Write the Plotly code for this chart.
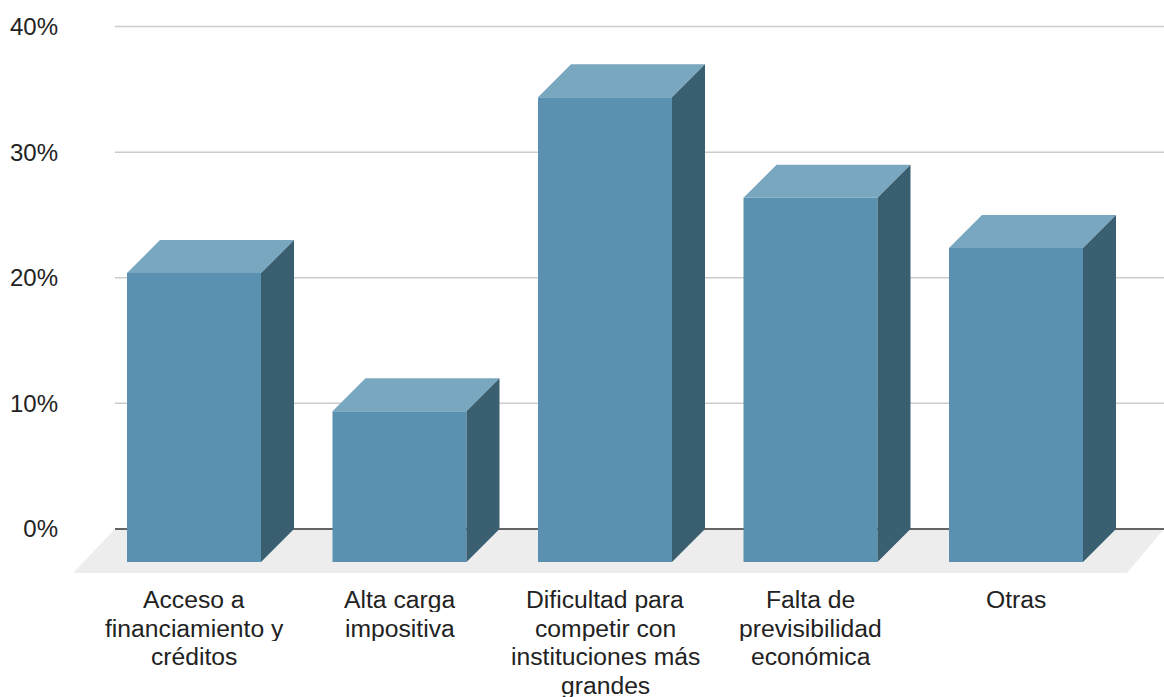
import plotly.graph_objects as go

categories = [
    ["Acceso a", "financiamiento y", "créditos"],
    ["Alta carga", "impositiva"],
    ["Dificultad para", "competir con", "instituciones más", "grandes"],
    ["Falta de", "previsibilidad", "económica"],
    ["Otras"],
]
values = [23, 12, 37, 29, 25]
y_ticks = [0, 10, 20, 30, 40]
y_ticktext = ["0%", "10%", "20%", "30%", "40%"]

FRONT = "#5a91b0"
TOP = "#79a7bf"
SIDE = "#3a5f70"
FLOOR = "#ededed"
GRID = "#cccccc"
ZERO = "#333333"
FONT = dict(family="Liberation Sans, Arial, sans-serif", size=24, color="#222222")
XFONT = dict(family="Liberation Sans, Arial, sans-serif", size=24.7, color="#222222")

W, H = 1164, 697
ML, PB = 59, 575
PX_PER_UNIT = 205.5
PX_PER_PCT = (529 - 27) / 40
MT = 27 - PX_PER_PCT
X0_PX = 194
DX = 33 / PX_PER_UNIT
DY = 33 / PX_PER_PCT
BW = 134 / PX_PER_UNIT
x_range = [(ML - X0_PX) / PX_PER_UNIT, (W - X0_PX) / PX_PER_UNIT]
y_range = [-(PB - 529) / PX_PER_PCT, 41]
xs = list(range(len(values)))

fig = go.Figure()
fig.add_trace(go.Bar(x=xs, y=values, base=-DY, width=BW, marker=dict(color=FRONT, line=dict(width=0)),
                     showlegend=False, hoverinfo="skip"))

top_x, top_y, side_x, side_y = [], [], [], []
for x, v in zip(xs, values):
    l, r = x - BW / 2, x + BW / 2
    ft = v - DY
    top_x += [l, r, r + DX, l + DX, l, None]
    top_y += [ft, ft, v, v, ft, None]
    side_x += [r, r + DX, r + DX, r, r, None]
    side_y += [-DY, 0, v, ft, -DY, None]
for fx, fy, c in ((top_x, top_y, TOP), (side_x, side_y, SIDE)):
    fig.add_trace(go.Scatter(x=fx, y=fy, mode="lines", fill="toself", fillcolor=c,
                             line=dict(width=0, color=c), showlegend=False, hoverinfo="skip"))

gx0 = (115 - X0_PX) / PX_PER_UNIT
fl_l = (73 - X0_PX) / PX_PER_UNIT
fl_r = (1127 - X0_PX) / PX_PER_UNIT
fl_b = -(573 - 529) / PX_PER_PCT
shapes = [dict(type="path", layer="below", line=dict(width=0), fillcolor=FLOOR,
               path=f"M {gx0} 0 L {x_range[1]} 0 L {fl_r} {fl_b} L {fl_l} {fl_b} Z")]
for t in y_ticks:
    shapes.append(dict(type="line", layer="below", x0=gx0, x1=x_range[1], y0=t, y1=t,
                       line=dict(color=ZERO if t == 0 else GRID, width=1.5)))

annotations = []
for x, lines in zip(xs, categories):
    for i, line in enumerate(lines):
        annotations.append(dict(x=x, xref="x", y=0, yref="paper", yanchor="top", xanchor="center",
                                text=line, showarrow=False, font=XFONT, yshift=-(10 + 28.7 * i),
                                borderpad=0, height=26, valign="middle"))

fig.update_layout(
    width=W, height=H, autosize=False,
    margin=dict(l=ML, r=0, t=MT, b=H - PB, pad=0),
    paper_bgcolor="white", plot_bgcolor="white", font=FONT,
    shapes=shapes, annotations=annotations, barmode="overlay",
    xaxis=dict(range=x_range, showgrid=False, zeroline=False, showticklabels=False, ticks="", showline=False),
    yaxis=dict(range=y_range, tickvals=y_ticks, ticktext=y_ticktext, showgrid=False, zeroline=False,
               ticks="", showline=False, tickfont=FONT),
)
fig.write_html("out.html", config=dict(displayModeBar=False),
               post_script="document.body.style.margin='0';document.body.style.overflow='hidden';")
